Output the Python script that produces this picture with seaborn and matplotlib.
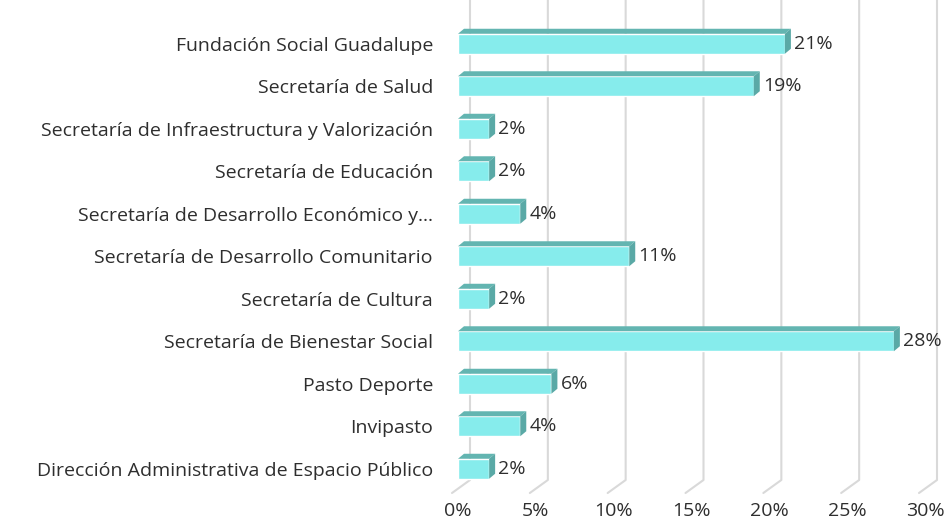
import matplotlib
matplotlib.use("Agg")
import matplotlib.pyplot as plt
from matplotlib.patches import Polygon
from matplotlib.lines import Line2D
import pandas as pd
import seaborn as sns

categorias = [
    "Fundación Social Guadalupe",
    "Secretaría de Salud",
    "Secretaría de Infraestructura y Valorización",
    "Secretaría de Educación",
    "Secretaría de Desarrollo Económico y...",
    "Secretaría de Desarrollo Comunitario",
    "Secretaría de Cultura",
    "Secretaría de Bienestar Social",
    "Pasto Deporte",
    "Invipasto",
    "Dirección Administrativa de Espacio Público",
]
porcentajes = [21, 19, 2, 2, 4, 11, 2, 28, 6, 4, 2]
ticks_x = [0, 5, 10, 15, 20, 25, 30]

frente = "#86ECEC"
lado = "#5AA9A6"
techo = "#63B5B1"
texto = "#2e2e2e"

sns.set_style("white")
plt.rcParams["font.family"] = ["Open Sans", "DejaVu Sans"]

df = pd.DataFrame({"entidad": categorias, "pct": porcentajes})

dpi = 100
W, H = 949, 524
fig = plt.figure(figsize=(W / dpi, H / dpi), dpi=dpi)
ax = fig.add_axes([458 / W, (524 - 490) / H, 467 / W, 467.5 / H])

sns.barplot(data=df, x="pct", y="entidad", color=frente, width=0.47,
            saturation=1, ax=ax, zorder=3)
ax.set_xlim(0, 30)
ax.set_ylim(10.5, -0.5)
ax.set_xlabel("")
ax.set_ylabel("")
ax.set_xticks(ticks_x)
ax.set_xticklabels([f"{t}%" for t in ticks_x], fontsize=14, color=texto)
ax.tick_params(axis="x", length=0, pad=9)
ax.tick_params(axis="y", length=0, pad=18, labelsize=14, labelcolor=texto)
sns.despine(ax=ax, left=True, bottom=True)
ax.patch.set_alpha(0)

# lineas de cuadricula con perspectiva (pared de fondo + piso)
fig.canvas.draw()
dx_b, dx_f, dy_f = 12, -6, 13
for t in ticks_x:
    x0 = ax.transData.transform((t, 0))[0]
    y_top = H
    y_bot = 524 - 480
    line = Line2D([x0 + dx_b, x0 + dx_b, x0 + dx_f],
                  [y_top, y_bot, y_bot - dy_f],
                  transform=None, color="#d9d9d9", lw=1.5, zorder=0)
    fig.add_artist(line)

# caras 3D de las barras
ox, oy = 6, 5
for bar, val in zip(ax.patches, porcentajes):
    x0, y0 = bar.get_x(), bar.get_y()
    w, h = bar.get_width(), bar.get_height()
    (ax_l, ay_t) = ax.transData.transform((x0, y0))
    (ax_r, ay_b) = ax.transData.transform((x0 + w, y0 + h))
    top_y = max(ay_t, ay_b)
    bot_y = min(ay_t, ay_b)
    top = Polygon([(ax_l, top_y), (ax_r, top_y), (ax_r + ox, top_y + oy),
                   (ax_l + ox, top_y + oy)], closed=True, transform=None,
                  facecolor=techo, edgecolor="none", zorder=4)
    side = Polygon([(ax_r, top_y), (ax_r + ox, top_y + oy), (ax_r + ox, bot_y + oy),
                    (ax_r, bot_y)], closed=True, transform=None,
                   facecolor=lado, edgecolor="none", zorder=4)
    fig.add_artist(top)
    fig.add_artist(side)
    fig.text((ax_r + ox + 3) / W, ((top_y + bot_y) / 2) / H, f"{val}%",
             ha="left", va="center", fontsize=14, color=texto)

fig.savefig("out.png", dpi=dpi)
